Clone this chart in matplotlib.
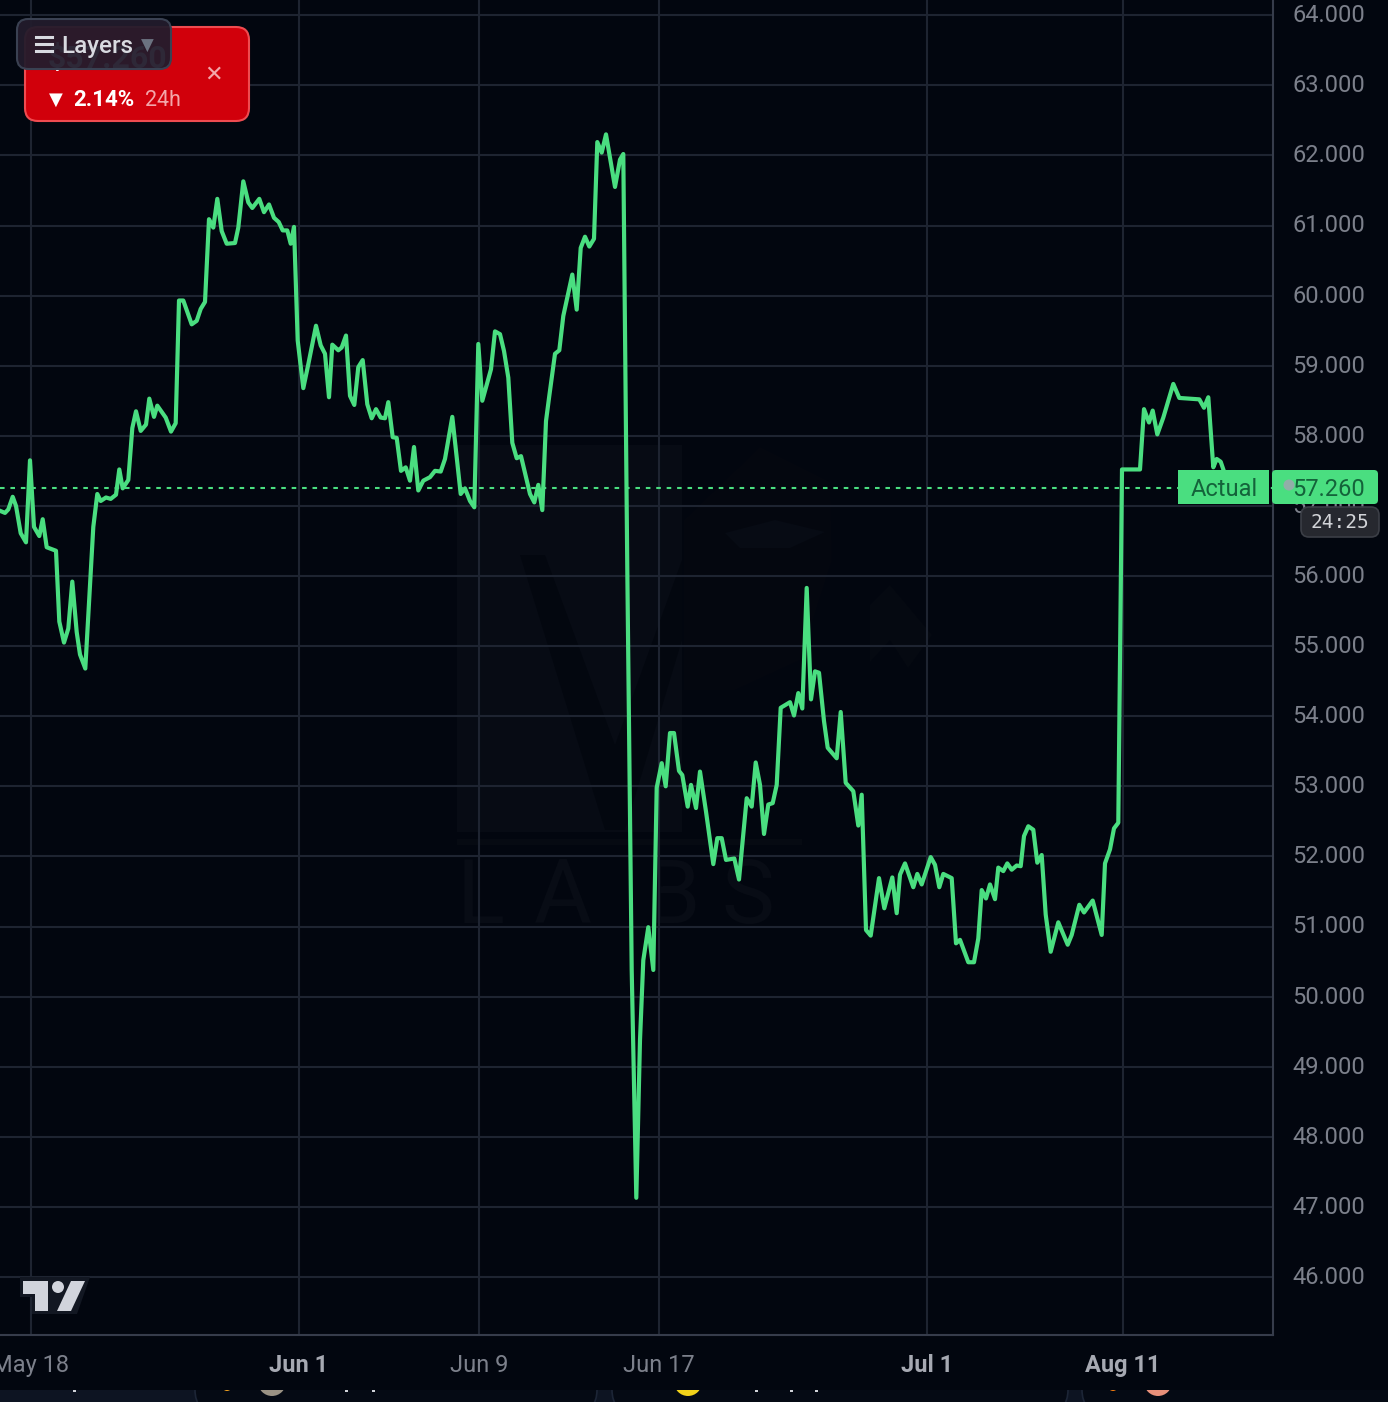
import matplotlib
matplotlib.use('Agg')
import matplotlib.pyplot as plt
from matplotlib.patches import FancyBboxPatch, Circle, Polygon, Rectangle
from matplotlib.transforms import ScaledTranslation

# chart data, x is the bar offset along the time axis
bar_pos = [0, 5, 8.3, 12.7, 16, 20.7, 26, 30, 34, 39.3, 42.7, 46.7, 56, 59.3, 64, 68.3, 72.3, 76.7, 80,
           85.3, 93.3, 97.3, 100.7, 106, 110.7, 116, 119.3, 122.7, 128.3, 132.3, 136, 140.7, 146, 149.3, 154,
           157.3, 165.7, 171, 175.7, 179, 183.3, 191.7, 196.7, 200.7, 205, 209, 213.3, 217.3, 221.7, 226.7,
           235, 238.3, 243.3, 248.3, 252.3, 259.3, 264, 269, 274, 278.7, 282.7, 287.3, 290.7, 294, 296,
           297.7, 303.3, 308.3, 316, 320.7, 325, 329, 332.3, 338.3, 341.7, 346, 350, 354.3, 358.3, 362.7,
           367.3, 371.7, 376, 380.7, 385, 388.3, 392.7, 396.7, 401, 405.7, 410, 414, 418.3, 423.3, 430, 435,
           440.7, 445, 452.3, 460.7, 465, 470, 474.3, 478.3, 482.3, 491, 495, 500, 504, 508.3, 512.3, 516.7,
           521, 530, 534.3, 538.3, 542.3, 546, 549.3, 555, 559.3, 563.3, 572.3, 576.7, 580.7, 585, 589.3,
           594, 597.3, 601.7, 606, 615, 620, 623.3, 627.3, 631.7, 636.3, 640, 643.3, 648.3, 653.3, 656.7,
           661.7, 665.7, 670, 674, 679, 682.3, 687.7, 691, 696, 700, 706, 713.3, 717.3, 721.7, 726, 734.3,
           739, 746.7, 751.7, 755.7, 760, 764, 768.3, 772.7, 776.7, 780.7, 790, 794, 798.3, 802.3, 806.7,
           811, 815, 819, 824, 827.7, 836.7, 840.7, 845.7, 853.3, 858.3, 861.7, 866, 870.7, 879, 884.3,
           892.3, 896.7, 900, 905, 913.3, 917.3, 921.7, 930.7, 935, 939.3, 943.3, 951.7, 956, 960, 968.3,
           974, 978.3, 981.7, 986, 990, 995, 998.3, 1003.3, 1007.3, 1011.7, 1016.7, 1020.7, 1024, 1028.3,
           1033.3, 1037.3, 1041.7, 1045.7, 1050.7, 1058.3, 1067.7, 1071.7, 1079.3, 1084, 1092.7, 1101.7,
           1105, 1110, 1114, 1118.3, 1122, 1140, 1144, 1149, 1152.7, 1157.3, 1163.3, 1173.3, 1179.3, 1199.3,
           1204, 1208.3, 1213.3, 1216.7, 1220.7, 1225]
price = [56.93, 56.90, 56.95, 57.13, 57.00, 56.61, 56.48, 57.65, 56.70, 56.57, 56.81, 56.41, 56.36, 55.35,
         55.05, 55.25, 55.92, 55.20, 54.88, 54.68, 56.70, 57.17, 57.07, 57.12, 57.10, 57.16, 57.52, 57.25,
         57.37, 58.11, 58.35, 58.07, 58.16, 58.53, 58.27, 58.43, 58.26, 58.06, 58.18, 59.93, 59.93, 59.59,
         59.64, 59.81, 59.91, 61.09, 60.97, 61.38, 60.92, 60.74, 60.75, 60.97, 61.63, 61.33, 61.25, 61.38,
         61.19, 61.30, 61.11, 61.05, 60.93, 60.93, 60.74, 60.98, 60.10, 59.36, 58.68, 59.02, 59.57, 59.29,
         59.17, 58.55, 59.30, 59.22, 59.26, 59.43, 58.57, 58.44, 58.98, 59.08, 58.45, 58.25, 58.38, 58.26,
         58.25, 58.48, 57.98, 57.97, 57.50, 57.55, 57.36, 57.84, 57.22, 57.36, 57.41, 57.50, 57.49, 57.67,
         58.27, 57.17, 57.25, 57.07, 56.98, 59.31, 58.50, 58.95, 59.49, 59.45, 59.21, 58.83, 57.90, 57.68,
         57.71, 57.17, 57.05, 57.30, 56.94, 58.21, 58.57, 59.17, 59.22, 59.71, 60.30, 59.80, 60.68, 60.84,
         60.70, 60.81, 62.19, 62.04, 62.30, 61.55, 61.94, 62.02, 56.09, 50.38, 47.13, 49.38, 50.52, 50.99,
         50.38, 52.98, 53.33, 53.00, 53.76, 53.76, 53.22, 53.16, 52.71, 53.02, 52.69, 53.21, 52.64, 51.89,
         52.26, 52.26, 51.95, 51.97, 51.67, 52.83, 52.71, 53.34, 53.02, 52.32, 52.74, 52.76, 53.02, 54.12,
         54.20, 54.01, 54.33, 54.11, 55.83, 54.24, 54.64, 54.62, 53.93, 53.55, 53.40, 54.06, 53.05, 52.93,
         52.44, 52.88, 50.95, 50.87, 51.69, 51.26, 51.70, 51.19, 51.74, 51.90, 51.56, 51.75, 51.60, 51.99,
         51.88, 51.56, 51.75, 51.69, 50.76, 50.81, 50.49, 50.49, 50.83, 51.52, 51.40, 51.60, 51.39, 51.84,
         51.79, 51.90, 51.81, 51.87, 51.86, 52.29, 52.43, 52.38, 51.91, 52.02, 51.17, 50.64, 51.06, 50.74,
         50.88, 51.31, 51.20, 51.37, 50.88, 51.90, 52.10, 52.40, 52.48, 57.52, 57.52, 58.38, 58.19, 58.36,
         58.02, 58.26, 58.74, 58.54, 58.52, 58.40, 58.55, 57.55, 57.67, 57.63, 57.45]

y_ticks = list(range(46, 65))
y_labels = ['%d.000' % v for v in y_ticks]
x_ticks = [31, 299, 479, 659, 927, 1123]
x_labels = ['May 18', 'Jun 1', 'Jun 9', 'Jun 17', 'Jul 1', 'Aug 11']
x_bold = ['Jun 1', 'Jul 1', 'Aug 11']
last_price = 57.26

BG = '#02060f'
GRID = '#1e2431'
AXIS = '#363c4b'
GREEN = '#4ade80'
LABEL = '#7c808b'
WM = '#070b14'
WM_DARK = '#03070f'
W, H = 1388, 1402

plt.rcParams['font.family'] = ['Roboto', 'DejaVu Sans']

fig = plt.figure(figsize=(W / 100, H / 100), dpi=100, facecolor=BG)

# watermark goes under the chart, in pixel units
wm = fig.add_axes([0, 0, 1, 1], facecolor='none', zorder=0)
wm.set_xlim(0, W)
wm.set_ylim(H, 0)
wm.axis('off')
wm.add_patch(Rectangle((457, 445), 225, 387, fc=WM, ec='none'))
wm.add_patch(Polygon([(520, 555), (605, 830), (625, 830), (682, 640), (682, 560), (615, 745), (545, 555)],
                     fc=WM_DARK, ec='none'))
wm.add_patch(Rectangle((457, 839), 345, 6, fc='#060a12', ec='none'))
wm.add_patch(Polygon([(684, 520), (760, 447), (830, 482), (832, 560), (800, 660), (735, 690), (684, 690)],
                     fc='#04070f', ec='none'))
wm.add_patch(Polygon([(725, 533), (775, 520), (825, 532), (790, 548), (740, 548)], fc=WM, ec='none'))
wm.add_patch(Polygon([(890, 585), (932, 635), (908, 668), (890, 640), (870, 662), (870, 605)],
                     fc='#050911', ec='none'))
for letter, lx in zip('LABS', [457, 534, 645, 722]):
    wm.text(lx, 923, letter, color='#080c15', fontsize=64, ha='left', va='baseline')

ax = fig.add_axes([0, (H - 1335) / H, 1273 / W, 1335 / H], facecolor='none', zorder=1)

ax.set_xlim(0, 1273)
ax.set_ylim(46 - 58 / 70.1, 46 + 1277 / 70.1)
ax.set_axisbelow(True)
ax.grid(True, color=GRID, linewidth=1.5)

ax.set_yticks(y_ticks)
ax.set_yticklabels(y_labels)
ax.yaxis.tick_right()
ax.tick_params(axis='y', length=0, pad=14, labelsize=17, labelcolor=LABEL)
ax.set_xticks(x_ticks)
ax.set_xticklabels(x_labels)
ax.tick_params(axis='x', length=0, pad=14, labelsize=17, labelcolor=LABEL)
for t in ax.get_xticklabels():
    if t.get_text() in x_bold:
        t.set_fontweight('bold')
        t.set_color('#a6a9b2')
for t in ax.get_yticklabels():
    t.set_transform(t.get_transform() + ScaledTranslation(0, 1.5 / 72, fig.dpi_scale_trans))

for side in ['top', 'left']:
    ax.spines[side].set_visible(False)
for side in ['right', 'bottom']:
    ax.spines[side].set_color(AXIS)
    ax.spines[side].set_linewidth(1.5)

ax.axhline(last_price, color=GREEN, linewidth=1.5, linestyle=(0, (2.2, 2.8)), zorder=2)
ax.plot(bar_pos, price, color=GREEN, linewidth=3.0, solid_joinstyle='round', zorder=3)

# overlay in pixel units for the widgets sitting on top of the chart
ui = fig.add_axes([0, 0, 1, 1], facecolor='none', zorder=2)
ui.set_xlim(0, W)
ui.set_ylim(H, 0)
ui.axis('off')


def box(x0, y0, x1, y1, r, fc, ec='none', lw=0, alpha=None, z=5):
    p = FancyBboxPatch((x0 + r, y0 + r), x1 - x0 - 2 * r, y1 - y0 - 2 * r,
                       boxstyle='round,pad=%d,rounding_size=%d' % (r, r),
                       fc=fc, ec=ec, lw=lw, alpha=alpha, zorder=z)
    ui.add_patch(p)
    return p


# strip of cards under the chart
strip = Rectangle((0, 1390), W, 12, fc='#0d1422', ec='none', zorder=1)
ui.add_patch(strip)
for x0, x1 in [(195, 597), (612, 1068), (1082, 1500)]:
    card = box(x0, 1300, x1, 1412, 22, '#050a14', ec='#1c2536', lw=1.2, z=2)
    card.set_clip_path(strip)
for cx, cy, r, c in [(227, 1386, 5, '#f0a020'), (272, 1382, 14, '#9a9284'), (688, 1382, 14, '#f2d21a'),
                     (1113, 1386, 5, '#f07a10'), (1158, 1382, 14, '#e8907a')]:
    dot = Circle((cx, cy), r, fc=c, ec='none', zorder=3)
    ui.add_patch(dot)
    dot.set_clip_path(strip)
for mx in [73, 345, 372, 755, 790, 815]:
    ui.add_patch(Rectangle((mx, 1390), 3, 1.5, fc='#cfd2d8', ec='none', zorder=3))

# last price labels
ui.add_patch(Rectangle((1178, 470), 91, 34, fc=GREEN, ec='none', zorder=5))
box(1272, 470, 1378, 504, 4, GREEN)
ui.text(1224, 490, 'Actual', color='#14633a', fontsize=17, ha='center', va='center', zorder=6)
ui.text(1329, 490, '57.260', color='#14633a', fontsize=17, ha='center', va='center', zorder=6)
ui.add_patch(Circle((1289, 485), 5.5, fc='#9fa6b0', ec='none', alpha=0.85, zorder=7))
box(1301, 507, 1379, 537, 8, '#26282f', ec='#3b3e46', lw=1.2)
ui.text(1340, 522, '24:25', color='#d2d4d8', fontsize=14, family='DejaVu Sans Mono',
        ha='center', va='center', zorder=6)

# red ticker card with the layers button over it
box(25, 27, 249, 121, 13, '#d1000b', ec='#ef4b50', lw=1.5, z=5)
ui.text(107, 59, '$57.260', color='white', fontsize=23, fontweight='bold', ha='center', va='center', zorder=6)
ui.text(56, 100, '▼', color='white', fontsize=13, family='DejaVu Sans', ha='center', va='center', zorder=6)
ui.text(73, 100, '2.14%', color='white', fontsize=16, fontweight='bold', ha='left', va='center', zorder=6)
ui.text(145, 100, '24h', color='#f3a6aa', fontsize=15.5, ha='left', va='center', zorder=6)
ui.text(214, 75, '✕', color='#f3a6aa', fontsize=16, family='DejaVu Sans', ha='center', va='center', zorder=6)
box(17, 19, 171, 69, 11, '#221c2c', alpha=0.95, z=7)
box(17, 19, 171, 69, 11, 'none', ec='#3a4152', lw=1.5, z=8)
for yy in [37, 44, 51]:
    ui.plot([36, 52], [yy, yy], color='#d8dae0', linewidth=2.2, zorder=9)
ui.text(61, 47, 'Layers', color='#d8dae0', fontsize=17.5, fontweight='medium', ha='left', va='center', zorder=9)
ui.text(147, 46, '▼', color='#6b7280', fontsize=12, family='DejaVu Sans', ha='center', va='center', zorder=9)

# tradingview mark
ui.add_patch(Polygon([(20, 1277), (90, 1277), (77, 1314), (32, 1314), (32, 1297), (20, 1297)],
                     fc='#121722', ec='none', zorder=5))
ui.add_patch(Polygon([(23, 1281), (48, 1281), (48, 1311), (35, 1311), (35, 1294), (23, 1294)],
                     fc='#d1d4dc', ec='none', zorder=6))
ui.add_patch(Circle((58, 1287), 6, fc='#d1d4dc', ec='none', zorder=6))
ui.add_patch(Polygon([(71, 1281), (85, 1281), (71, 1311), (57, 1311)], fc='#d1d4dc', ec='none', zorder=6))

fig.savefig('out.png', dpi=100, facecolor=BG)
